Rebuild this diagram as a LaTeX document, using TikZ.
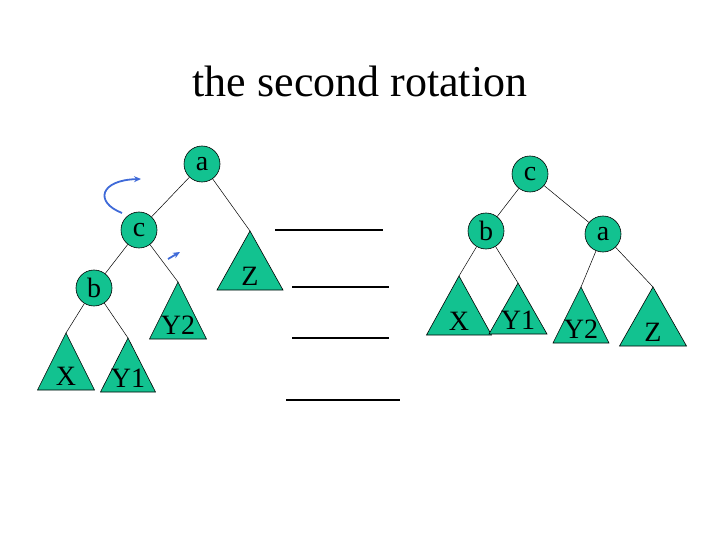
\documentclass[tikz,border=0pt]{standalone}
\usepackage{fontspec}
\setmainfont{Liberation Serif}
\usepackage{tikz}
\usepackage{xcolor}
\usetikzlibrary{arrows.meta,positioning,calc}
\definecolor{treegreen}{HTML}{12C290}
\definecolor{ink}{HTML}{000000}
\definecolor{rotblue}{HTML}{3F6AD8}
\tikzset{
  treenode/.style={
    draw=ink, fill=treegreen, line width=0.6pt, circle,
    inner sep=0pt, minimum size=36pt,
    font=\fontsize{28}{28}\selectfont
  },
  treeside/.style={draw=ink, fill=treegreen, line width=0.6pt, line join=miter},
  treelabel/.style={anchor=base, inner sep=0pt, font=\fontsize{28}{28}\selectfont},
  treeedge/.style={draw=ink, line width=0.5pt},
  blankline/.style={draw=ink, line width=1.1pt},
  rotarrow/.style={draw=rotblue, line width=1.8pt, -{Stealth[length=7pt,width=6pt]}}
}
% subtree triangle: name, apex x, apex y, half width, height, label
\newcommand{\subtree}[6]{%
  \coordinate (#1) at (#2,#3);
  \draw[treeside] (#1) -- ++(-#4,#5) -- ++(2*#4,0) -- cycle;
  \node[treelabel] (#1-lbl) at (#2,#3+#5-5) {#6};
}

\begin{document}
\begin{tikzpicture}[x=1pt,y=-1pt]
  \useasboundingbox (0,0) rectangle (720,540);
  \node[anchor=base,font=\fontsize{44}{44}\selectfont] (title) at (360,97) {the second rotation};

  % before the rotation
  \node[treenode] (a1) at (202,164) {a};
  \node[treenode] (c1) at (139,230) {c};
  \node[treenode] (b1) at (94,288) {b};
  \subtree{X1}{66}{333}{28.5}{57}{X}
  \subtree{Ya1}{128}{338}{27.5}{54}{Y1}
  \subtree{Yb1}{178}{282}{28.5}{57}{Y2}
  \subtree{Z1}{250}{231}{33}{59}{Z}
  \draw[treeedge] (a1) -- (c1);
  \draw[treeedge] (a1) -- (Z1);
  \draw[treeedge] (c1) -- (b1);
  \draw[treeedge] (c1) -- (Yb1);
  \draw[treeedge] (b1) -- (X1);
  \draw[treeedge] (b1) -- (Ya1);

  % rotation arrows
  \coordinate (rotS) at (122,213);
  \coordinate (rotE) at (141,179);
  \draw[rotarrow] (rotS) .. controls (94,202) and (100,180) .. (rotE);
  \coordinate (pushS) at (168,259);
  \coordinate (pushE) at (180,252);
  \draw[rotarrow] (pushS) -- (pushE);

  % blank lines
  \foreach \xa/\xb/\y in {275/383/230, 292/389/287, 292/389/338, 286/400/400}
    \draw[blankline] (\xa,\y) -- (\xb,\y);

  % after the rotation
  \node[treenode] (c2) at (530,174) {c};
  \node[treenode] (b2) at (486,231) {b};
  \node[treenode] (a2) at (603,234) {a};
  \subtree{X2}{459}{276}{32.5}{59}{X}
  \subtree{Ya2}{518}{283}{29}{51}{Y1}
  \subtree{Yb2}{581}{287}{28}{56}{Y2}
  \subtree{Z2}{653}{287}{33.5}{59}{Z}
  \draw[treeedge] (c2) -- (b2);
  \draw[treeedge] (c2) -- (a2);
  \draw[treeedge] (b2) -- (X2);
  \draw[treeedge] (b2) -- (Ya2);
  \draw[treeedge] (a2) -- (Yb2);
  \draw[treeedge] (a2) -- (Z2);
\end{tikzpicture}
\end{document}
